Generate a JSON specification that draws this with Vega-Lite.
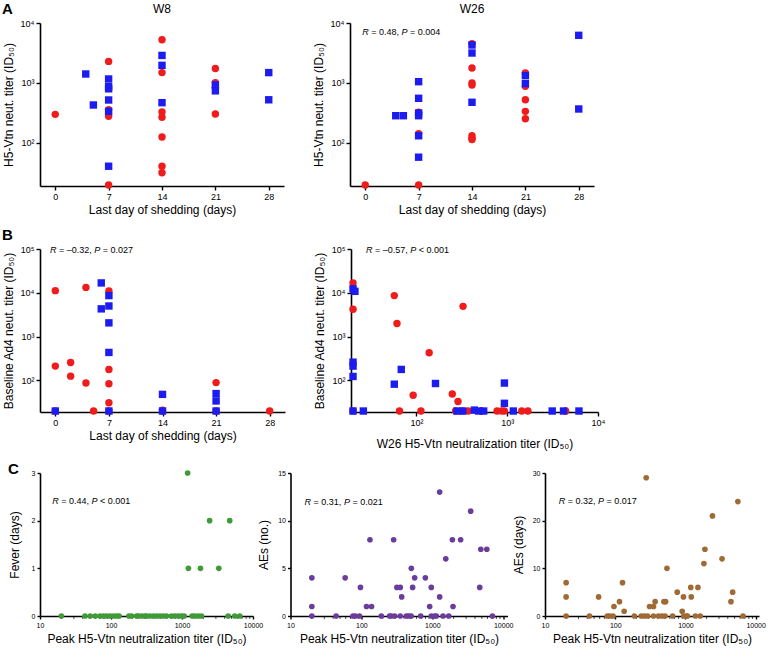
{
  "$schema": "https://vega.github.io/schema/vega-lite/v6.json",
  "padding": {"left": 2, "top": 2, "right": 2, "bottom": 2},
  "background": "white",
  "config": {
    "view": {"stroke": null},
    "font": "Liberation Sans",
    "axis": {"grid": false, "domainColor": "#000", "domainWidth": 1.6, "tickColor": "#000", "tickWidth": 1.4, "tickSize": 4, "labelFontSize": 9, "labelColor": "#000", "labelPadding": 2, "labelFlush": false, "titleFontSize": 12, "titleFontWeight": "normal", "titleColor": "#000", "titlePadding": 5},
    "title": {"fontSize": 12, "fontWeight": "normal", "color": "#000", "offset": 3}
  },
  "datasets": {
    "a8": [
      {"day":0,"titer":300,"g":"a"},{"day":7,"titer":2290,"g":"a"},{"day":7,"titer":360,"g":"a"},{"day":7,"titer":280,"g":"a"},{"day":7,"titer":20,"g":"a"},
      {"day":14,"titer":5270,"g":"a"},{"day":14,"titer":1490,"g":"a"},{"day":14,"titer":329,"g":"a"},{"day":14,"titer":268,"g":"a"},{"day":14,"titer":126,"g":"a"},{"day":14,"titer":41,"g":"a"},{"day":14,"titer":32,"g":"a"},
      {"day":21,"titer":1740,"g":"a"},{"day":21,"titer":1010,"g":"a"},{"day":21,"titer":850,"g":"a"},{"day":21,"titer":304,"g":"a"},
      {"day":4,"titer":1413,"g":"b"},{"day":5,"titer":430,"g":"b"},{"day":7,"titer":1166,"g":"b"},{"day":7,"titer":870,"g":"b"},{"day":7,"titer":800,"g":"b"},{"day":7,"titer":521,"g":"b"},{"day":7,"titer":337,"g":"b"},{"day":7,"titer":41,"g":"b"},
      {"day":14,"titer":2880,"g":"b"},{"day":14,"titer":1970,"g":"b"},{"day":14,"titer":470,"g":"b"},{"day":21,"titer":930,"g":"b"},{"day":21,"titer":740,"g":"b"},{"day":28,"titer":1490,"g":"b"},{"day":28,"titer":525,"g":"b"}
    ],
    "a26": [
      {"day":0,"titer":20,"g":"a"},{"day":7,"titer":325,"g":"a"},{"day":7,"titer":143,"g":"a"},{"day":7,"titer":20,"g":"a"},
      {"day":14,"titer":4520,"g":"a"},{"day":14,"titer":1780,"g":"a"},{"day":14,"titer":1000,"g":"a"},{"day":14,"titer":926,"g":"a"},{"day":14,"titer":132,"g":"a"},{"day":14,"titer":120,"g":"a"},{"day":14,"titer":114,"g":"a"},
      {"day":21,"titer":1468,"g":"a"},{"day":21,"titer":880,"g":"a"},{"day":21,"titer":527,"g":"a"},{"day":21,"titer":337,"g":"a"},{"day":21,"titer":254,"g":"a"},
      {"day":4,"titer":285,"g":"b"},{"day":5,"titer":285,"g":"b"},{"day":7,"titer":1052,"g":"b"},{"day":7,"titer":556,"g":"b"},{"day":7,"titer":316,"g":"b"},{"day":7,"titer":285,"g":"b"},{"day":7,"titer":132,"g":"b"},{"day":7,"titer":58,"g":"b"},
      {"day":14,"titer":4300,"g":"b"},{"day":14,"titer":3160,"g":"b"},{"day":14,"titer":477,"g":"b"},{"day":21,"titer":1325,"g":"b"},{"day":21,"titer":975,"g":"b"},{"day":28,"titer":6230,"g":"b"},{"day":28,"titer":369,"g":"b"}
    ],
    "bl": [
      {"day":0,"ad4":11200,"g":"a"},{"day":0,"ad4":212,"g":"a"},{"day":0,"ad4":20,"g":"a"},{"day":2,"ad4":257,"g":"a"},{"day":2,"ad4":125,"g":"a"},{"day":4,"ad4":13300,"g":"a"},{"day":4,"ad4":87,"g":"a"},{"day":5,"ad4":20,"g":"a"},
      {"day":7,"ad4":11000,"g":"a"},{"day":7,"ad4":178,"g":"a"},{"day":7,"ad4":84,"g":"a"},{"day":7,"ad4":31,"g":"a"},{"day":7,"ad4":20,"g":"a"},{"day":14,"ad4":21,"g":"a"},{"day":14,"ad4":20,"g":"a"},{"day":21,"ad4":89,"g":"a"},{"day":21,"ad4":20,"g":"a"},{"day":28,"ad4":20,"g":"a"},
      {"day":0,"ad4":20,"g":"b"},{"day":6,"ad4":16800,"g":"b"},{"day":6,"ad4":4300,"g":"b"},{"day":7,"ad4":8630,"g":"b"},{"day":7,"ad4":5000,"g":"b"},{"day":7,"ad4":2060,"g":"b"},{"day":7,"ad4":435,"g":"b"},{"day":7,"ad4":20,"g":"b"},
      {"day":14,"ad4":48,"g":"b"},{"day":14,"ad4":20,"g":"b"},{"day":21,"ad4":50,"g":"b"},{"day":21,"ad4":34,"g":"b"},{"day":21,"ad4":20,"g":"b"}
    ],
    "br": [
      {"h5":20,"ad4":16800,"g":"a"},{"h5":20,"ad4":4200,"g":"a"},{"h5":20,"ad4":20,"g":"a"},{"h5":57,"ad4":8640,"g":"a"},{"h5":61,"ad4":2000,"g":"a"},{"h5":65,"ad4":20,"g":"a"},{"h5":92,"ad4":46,"g":"a"},{"h5":112,"ad4":20,"g":"a"},
      {"h5":138,"ad4":427,"g":"a"},{"h5":248,"ad4":49,"g":"a"},{"h5":287,"ad4":33,"g":"a"},{"h5":270,"ad4":20,"g":"a"},{"h5":326,"ad4":4900,"g":"a"},{"h5":324,"ad4":20,"g":"a"},{"h5":372,"ad4":20,"g":"a"},{"h5":519,"ad4":20,"g":"a"},
      {"h5":773,"ad4":20,"g":"a"},{"h5":869,"ad4":20,"g":"a"},{"h5":931,"ad4":20,"g":"a"},{"h5":1445,"ad4":20,"g":"a"},{"h5":1690,"ad4":20,"g":"a"},{"h5":4400,"ad4":20,"g":"a"},
      {"h5":20,"ad4":12300,"g":"b"},{"h5":21,"ad4":10800,"g":"b"},{"h5":20,"ad4":261,"g":"b"},{"h5":20,"ad4":212,"g":"b"},{"h5":20,"ad4":123,"g":"b"},{"h5":20,"ad4":20,"g":"b"},{"h5":26,"ad4":20,"g":"b"},
      {"h5":68,"ad4":178,"g":"b"},{"h5":57,"ad4":82,"g":"b"},{"h5":162,"ad4":85,"g":"b"},{"h5":280,"ad4":20,"g":"b"},{"h5":324,"ad4":20,"g":"b"},{"h5":434,"ad4":21,"g":"b"},{"h5":485,"ad4":20,"g":"b"},{"h5":550,"ad4":20,"g":"b"},
      {"h5":931,"ad4":87,"g":"b"},{"h5":931,"ad4":30,"g":"b"},{"h5":1167,"ad4":20,"g":"b"},{"h5":3130,"ad4":20,"g":"b"},{"h5":4170,"ad4":20,"g":"b"},{"h5":6170,"ad4":20,"g":"b"}
    ],
    "fever": [
      {"t":1200,"v":3},{"t":2450,"v":2},{"t":4700,"v":2},{"t":1230,"v":1},{"t":1820,"v":1},{"t":3300,"v":1},
      {"t":20,"v":0},{"t":43,"v":0},{"t":51,"v":0},{"t":60,"v":0},{"t":70,"v":0},{"t":78,"v":0},{"t":87,"v":0},{"t":97,"v":0},{"t":108,"v":0},{"t":120,"v":0},{"t":130,"v":0},
      {"t":179,"v":0},{"t":195,"v":0},{"t":230,"v":0},{"t":242,"v":0},{"t":270,"v":0},{"t":300,"v":0},{"t":316,"v":0},{"t":353,"v":0},{"t":394,"v":0},{"t":438,"v":0},{"t":488,"v":0},
      {"t":543,"v":0},{"t":605,"v":0},{"t":711,"v":0},{"t":792,"v":0},{"t":883,"v":0},{"t":984,"v":0},{"t":1072,"v":0},{"t":1390,"v":0},{"t":1515,"v":0},{"t":1690,"v":0},{"t":1880,"v":0},
      {"t":4470,"v":0},{"t":5530,"v":0},{"t":6500,"v":0}
    ],
    "aes": [
      {"t":20,"v":4},{"t":20,"v":1},{"t":20,"v":0},{"t":44,"v":0},{"t":59,"v":4},{"t":76,"v":0},{"t":82,"v":0},{"t":97,"v":3},{"t":94,"v":0},{"t":118,"v":1},{"t":139,"v":1},{"t":132,"v":8},
      {"t":191,"v":0},{"t":250,"v":0},{"t":264,"v":0},{"t":294,"v":0},{"t":285,"v":8},{"t":317,"v":3},{"t":353,"v":3},{"t":370,"v":2},{"t":353,"v":0},{"t":430,"v":0},{"t":465,"v":0},{"t":503,"v":0},
      {"t":506,"v":5},{"t":528,"v":3},{"t":564,"v":4},{"t":686,"v":0},{"t":798,"v":4},{"t":918,"v":1},{"t":968,"v":3},{"t":968,"v":0},{"t":1080,"v":0},{"t":1140,"v":0},{"t":1270,"v":13},{"t":1270,"v":2},
      {"t":1415,"v":0},{"t":1706,"v":0},{"t":1550,"v":6},{"t":1920,"v":8},{"t":1960,"v":1},{"t":2510,"v":8},{"t":3480,"v":11},{"t":4670,"v":3},{"t":4830,"v":7},{"t":5870,"v":7},{"t":7050,"v":0}
    ],
    "aed": [
      {"t":20,"v":7},{"t":20,"v":4},{"t":20,"v":0},{"t":43,"v":0},{"t":58,"v":4},{"t":77,"v":0},{"t":83,"v":0},{"t":96,"v":2},{"t":93,"v":0},{"t":115,"v":3},{"t":127,"v":7},{"t":134,"v":1},
      {"t":187,"v":0},{"t":234,"v":0},{"t":259,"v":0},{"t":288,"v":0},{"t":276,"v":29},{"t":308,"v":2},{"t":351,"v":2},{"t":370,"v":3},{"t":351,"v":0},{"t":413,"v":0},{"t":462,"v":0},{"t":512,"v":0},
      {"t":494,"v":3},{"t":522,"v":3},{"t":545,"v":10},{"t":656,"v":0},{"t":764,"v":5},{"t":898,"v":1},{"t":937,"v":4},{"t":946,"v":0},{"t":1032,"v":0},{"t":1067,"v":0},{"t":1190,"v":6},{"t":1210,"v":4},
      {"t":1385,"v":0},{"t":1625,"v":0},{"t":1506,"v":6},{"t":1832,"v":11},{"t":1893,"v":14},{"t":2425,"v":21},{"t":3320,"v":12},{"t":4445,"v":3},{"t":4700,"v":5},{"t":5575,"v":24},{"t":6600,"v":0}
    ],
    "minor": [
      {"t":20},{"t":30},{"t":40},{"t":50},{"t":60},{"t":70},{"t":80},{"t":90},
      {"t":200},{"t":300},{"t":400},{"t":500},{"t":600},{"t":700},{"t":800},{"t":900},
      {"t":2000},{"t":3000},{"t":4000},{"t":5000},{"t":6000},{"t":7000},{"t":8000},{"t":9000}
    ]
  },
  "spacing": 13,
  "vconcat": [
    {
      "title": {"text": "A", "anchor": "start", "frame": "bounds", "fontSize": 15, "fontWeight": "bold", "offset": -14},
      "spacing": 28,
      "hconcat": [
        {
          "width": 244, "height": 163,
          "title": {"text": "W8"},
          "data": {"name": "a8"},
          "mark": {"type": "point", "filled": true, "size": 55, "opacity": 1},
          "encoding": {
            "x": {"field": "day", "type": "quantitative", "scale": {"domain": [-2, 30], "nice": false, "zero": false}, "axis": {"values": [0, 7, 14, 21, 28], "titlePadding": 3, "title": "Last day of shedding (days)"}},
            "y": {"field": "titer", "type": "quantitative", "scale": {"type": "log", "domain": [19.2, 10000], "nice": false}, "axis": {"values": [100, 1000, 10000], "labelExpr": "datum.value >= 99999 ? '10⁵' : datum.value >= 9999 ? '10⁴' : datum.value >= 999 ? '10³' : '10²'", "title": "H5-Vtn neut. titer (ID₅₀)"}},
            "color": {"field": "g", "type": "nominal", "scale": {"domain": ["a", "b"], "range": ["#f01c1c", "#1c1cf0"]}, "legend": null},
            "shape": {"field": "g", "type": "nominal", "scale": {"domain": ["a", "b"], "range": ["circle", "square"]}, "legend": null}
          }
        },
        {
          "width": 244, "height": 163,
          "title": {"text": "W26"},
          "layer": [
            {
              "data": {"name": "a26"},
              "mark": {"type": "point", "filled": true, "size": 55, "opacity": 1},
              "encoding": {
                "x": {"field": "day", "type": "quantitative", "scale": {"domain": [-2, 30], "nice": false, "zero": false}, "axis": {"values": [0, 7, 14, 21, 28], "titlePadding": 3, "title": "Last day of shedding (days)"}},
                "y": {"field": "titer", "type": "quantitative", "scale": {"type": "log", "domain": [19.2, 10000], "nice": false}, "axis": {"values": [100, 1000, 10000], "labelExpr": "datum.value >= 99999 ? '10⁵' : datum.value >= 9999 ? '10⁴' : datum.value >= 999 ? '10³' : '10²'", "title": "H5-Vtn neut. titer (ID₅₀)"}},
                "color": {"field": "g", "type": "nominal", "scale": {"domain": ["a", "b"], "range": ["#f01c1c", "#1c1cf0"]}, "legend": null},
                "shape": {"field": "g", "type": "nominal", "scale": {"domain": ["a", "b"], "range": ["circle", "square"]}, "legend": null}
              }
            },
            {
              "data": {"values": [{"r": "R", "s": "= 0.48,", "p": "P", "q": "= 0.004"}]},
              "encoding": {"x": {"datum": -0.4}, "y": {"datum": 7000}},
              "layer": [
                {"mark": {"type": "text", "align": "left", "baseline": "middle", "fontSize": 9, "fontStyle": "italic"}, "encoding": {"text": {"field": "r"}}},
                {"mark": {"type": "text", "align": "left", "baseline": "middle", "fontSize": 9, "dx": 9}, "encoding": {"text": {"field": "s"}}},
                {"mark": {"type": "text", "align": "left", "baseline": "middle", "fontSize": 9, "fontStyle": "italic", "dx": 39.3}, "encoding": {"text": {"field": "p"}}},
                {"mark": {"type": "text", "align": "left", "baseline": "middle", "fontSize": 9, "dx": 47.8}, "encoding": {"text": {"field": "q"}}}
              ]
            }
          ]
        }
      ]
    },
    {
      "title": {"text": "B", "anchor": "start", "frame": "bounds", "fontSize": 15, "fontWeight": "bold", "offset": 2},
      "spacing": 28,
      "hconcat": [
        {
          "width": 245, "height": 163,
          "layer": [
            {
              "data": {"name": "bl"},
              "mark": {"type": "point", "filled": true, "size": 55, "opacity": 1},
              "encoding": {
                "x": {"field": "day", "type": "quantitative", "scale": {"domain": [-2, 30], "nice": false, "zero": false}, "axis": {"values": [0, 7, 14, 21, 28], "titlePadding": 3, "title": "Last day of shedding (days)"}},
                "y": {"field": "ad4", "type": "quantitative", "scale": {"type": "log", "domain": [19, 100000], "nice": false}, "axis": {"values": [100, 1000, 10000, 100000], "labelExpr": "datum.value >= 99999 ? '10⁵' : datum.value >= 9999 ? '10⁴' : datum.value >= 999 ? '10³' : '10²'", "title": "Baseline Ad4 neut. titer (ID₅₀)"}},
                "color": {"field": "g", "type": "nominal", "scale": {"domain": ["a", "b"], "range": ["#f01c1c", "#1c1cf0"]}, "legend": null},
                "shape": {"field": "g", "type": "nominal", "scale": {"domain": ["a", "b"], "range": ["circle", "square"]}, "legend": null}
              }
            },
            {
              "data": {"values": [{"r": "R", "s": "= –0.32,", "p": "P", "q": "= 0.027"}]},
              "encoding": {"x": {"datum": -0.7}, "y": {"datum": 95000}},
              "layer": [
                {"mark": {"type": "text", "align": "left", "baseline": "middle", "fontSize": 9, "fontStyle": "italic"}, "encoding": {"text": {"field": "r"}}},
                {"mark": {"type": "text", "align": "left", "baseline": "middle", "fontSize": 9, "dx": 9}, "encoding": {"text": {"field": "s"}}},
                {"mark": {"type": "text", "align": "left", "baseline": "middle", "fontSize": 9, "fontStyle": "italic", "dx": 44.3}, "encoding": {"text": {"field": "p"}}},
                {"mark": {"type": "text", "align": "left", "baseline": "middle", "fontSize": 9, "dx": 52.8}, "encoding": {"text": {"field": "q"}}}
              ]
            }
          ]
        },
        {
          "width": 247, "height": 163,
          "layer": [
            {
              "data": {"name": "br"},
              "mark": {"type": "point", "filled": true, "size": 55, "opacity": 1},
              "encoding": {
                "x": {"field": "h5", "type": "quantitative", "scale": {"type": "log", "domain": [19, 10000], "nice": false}, "axis": {"values": [100, 1000, 10000], "labelExpr": "datum.value >= 9999 ? '10⁴' : datum.value >= 999 ? '10³' : '10²'", "titlePadding": 11, "title": "W26 H5-Vtn neutralization titer (ID₅₀)"}},
                "y": {"field": "ad4", "type": "quantitative", "scale": {"type": "log", "domain": [19, 100000], "nice": false}, "axis": {"values": [100, 1000, 10000, 100000], "labelExpr": "datum.value >= 99999 ? '10⁵' : datum.value >= 9999 ? '10⁴' : datum.value >= 999 ? '10³' : '10²'", "title": "Baseline Ad4 neut. titer (ID₅₀)"}},
                "color": {"field": "g", "type": "nominal", "scale": {"domain": ["a", "b"], "range": ["#f01c1c", "#1c1cf0"]}, "legend": null},
                "shape": {"field": "g", "type": "nominal", "scale": {"domain": ["a", "b"], "range": ["circle", "square"]}, "legend": null}
              }
            },
            {
              "data": {"values": [{"r": "R", "s": "= –0.57,", "p": "P", "q": "< 0.001"}]},
              "encoding": {"x": {"datum": 27.8}, "y": {"datum": 95000}},
              "layer": [
                {"mark": {"type": "text", "align": "left", "baseline": "middle", "fontSize": 9, "fontStyle": "italic"}, "encoding": {"text": {"field": "r"}}},
                {"mark": {"type": "text", "align": "left", "baseline": "middle", "fontSize": 9, "dx": 9}, "encoding": {"text": {"field": "s"}}},
                {"mark": {"type": "text", "align": "left", "baseline": "middle", "fontSize": 9, "fontStyle": "italic", "dx": 44.3}, "encoding": {"text": {"field": "p"}}},
                {"mark": {"type": "text", "align": "left", "baseline": "middle", "fontSize": 9, "dx": 52.8}, "encoding": {"text": {"field": "q"}}}
              ]
            }
          ]
        }
      ]
    },
    {
      "title": {"text": "C", "anchor": "start", "frame": "bounds", "fontSize": 15, "fontWeight": "bold", "offset": -8},
      "bounds": "flush",
      "spacing": 37.5,
      "hconcat": [
        {
          "width": 213, "height": 143,
          "layer": [
            {
              "data": {"name": "minor"},
              "mark": {"type": "tick", "orient": "vertical", "size": 3, "thickness": 1, "color": "#000", "yOffset": 1.5},
              "encoding": {
                "x": {"field": "t", "type": "quantitative"},
                "y": {"datum": 0}
              }
            },
            {
              "data": {"name": "fever"},
              "mark": {"type": "point", "filled": true, "size": 32, "opacity": 1, "color": "#3f9a37"},
              "encoding": {
                "x": {"field": "t", "type": "quantitative", "scale": {"type": "log", "domain": [10, 10000], "nice": false}, "axis": {"values": [10, 100, 1000, 10000], "format": "d", "tickSize": 3, "labelFontSize": 7, "title": "Peak H5-Vtn neutralization titer (ID₅₀)"}},
                "y": {"field": "v", "type": "quantitative", "scale": {"domain": [0, 3], "nice": false}, "axis": {"values": [0, 1, 2, 3], "tickSize": 3, "labelFontSize": 7, "titlePadding": 10, "title": "Fever (days)"}}
              }
            },
            {
              "data": {"values": [{"r": "R", "s": "= 0.44,", "p": "P", "q": "< 0.001"}]},
              "encoding": {"x": {"datum": 14.9}, "y": {"datum": 2.42}},
              "layer": [
                {"mark": {"type": "text", "align": "left", "baseline": "middle", "fontSize": 9, "fontStyle": "italic"}, "encoding": {"text": {"field": "r"}}},
                {"mark": {"type": "text", "align": "left", "baseline": "middle", "fontSize": 9, "dx": 9}, "encoding": {"text": {"field": "s"}}},
                {"mark": {"type": "text", "align": "left", "baseline": "middle", "fontSize": 9, "fontStyle": "italic", "dx": 39.3}, "encoding": {"text": {"field": "p"}}},
                {"mark": {"type": "text", "align": "left", "baseline": "middle", "fontSize": 9, "dx": 47.8}, "encoding": {"text": {"field": "q"}}}
              ]
            }
          ]
        },
        {
          "width": 217, "height": 143,
          "layer": [
            {
              "data": {"name": "minor"},
              "mark": {"type": "tick", "orient": "vertical", "size": 3, "thickness": 1, "color": "#000", "yOffset": 1.5},
              "encoding": {
                "x": {"field": "t", "type": "quantitative"},
                "y": {"datum": 0}
              }
            },
            {
              "data": {"name": "aes"},
              "mark": {"type": "point", "filled": true, "size": 32, "opacity": 1, "color": "#6a3d9a"},
              "encoding": {
                "x": {"field": "t", "type": "quantitative", "scale": {"type": "log", "domain": [10, 11500], "nice": false}, "axis": {"values": [10, 100, 1000, 10000], "format": "d", "tickSize": 3, "labelFontSize": 7, "title": "Peak H5-Vtn neutralization titer (ID₅₀)"}},
                "y": {"field": "v", "type": "quantitative", "scale": {"domain": [0, 15], "nice": false}, "axis": {"values": [0, 5, 10, 15], "tickSize": 3, "labelFontSize": 7, "titlePadding": 7, "title": "AEs (no.)"}}
              }
            },
            {
              "data": {"values": [{"r": "R", "s": "= 0.31,", "p": "P", "q": "= 0.021"}]},
              "encoding": {"x": {"datum": 15.8}, "y": {"datum": 12}},
              "layer": [
                {"mark": {"type": "text", "align": "left", "baseline": "middle", "fontSize": 9, "fontStyle": "italic"}, "encoding": {"text": {"field": "r"}}},
                {"mark": {"type": "text", "align": "left", "baseline": "middle", "fontSize": 9, "dx": 9}, "encoding": {"text": {"field": "s"}}},
                {"mark": {"type": "text", "align": "left", "baseline": "middle", "fontSize": 9, "fontStyle": "italic", "dx": 39.3}, "encoding": {"text": {"field": "p"}}},
                {"mark": {"type": "text", "align": "left", "baseline": "middle", "fontSize": 9, "dx": 47.8}, "encoding": {"text": {"field": "q"}}}
              ]
            }
          ]
        },
        {
          "width": 214, "height": 143,
          "layer": [
            {
              "data": {"name": "minor"},
              "mark": {"type": "tick", "orient": "vertical", "size": 3, "thickness": 1, "color": "#000", "yOffset": 1.5},
              "encoding": {
                "x": {"field": "t", "type": "quantitative"},
                "y": {"datum": 0}
              }
            },
            {
              "data": {"name": "aed"},
              "mark": {"type": "point", "filled": true, "size": 32, "opacity": 1, "color": "#a06a35"},
              "encoding": {
                "x": {"field": "t", "type": "quantitative", "scale": {"type": "log", "domain": [10, 11150], "nice": false}, "axis": {"values": [10, 100, 1000, 10000], "format": "d", "tickSize": 3, "labelFontSize": 7, "title": "Peak H5-Vtn neutralization titer (ID₅₀)"}},
                "y": {"field": "v", "type": "quantitative", "scale": {"domain": [0, 30], "nice": false}, "axis": {"values": [0, 10, 20, 30], "tickSize": 3, "labelFontSize": 7, "titlePadding": 7, "title": "AEs (days)"}}
              }
            },
            {
              "data": {"values": [{"r": "R", "s": "= 0.32,", "p": "P", "q": "= 0.017"}]},
              "encoding": {"x": {"datum": 15.7}, "y": {"datum": 24.2}},
              "layer": [
                {"mark": {"type": "text", "align": "left", "baseline": "middle", "fontSize": 9, "fontStyle": "italic"}, "encoding": {"text": {"field": "r"}}},
                {"mark": {"type": "text", "align": "left", "baseline": "middle", "fontSize": 9, "dx": 9}, "encoding": {"text": {"field": "s"}}},
                {"mark": {"type": "text", "align": "left", "baseline": "middle", "fontSize": 9, "fontStyle": "italic", "dx": 39.3}, "encoding": {"text": {"field": "p"}}},
                {"mark": {"type": "text", "align": "left", "baseline": "middle", "fontSize": 9, "dx": 47.8}, "encoding": {"text": {"field": "q"}}}
              ]
            }
          ]
        }
      ]
    }
  ]
}
